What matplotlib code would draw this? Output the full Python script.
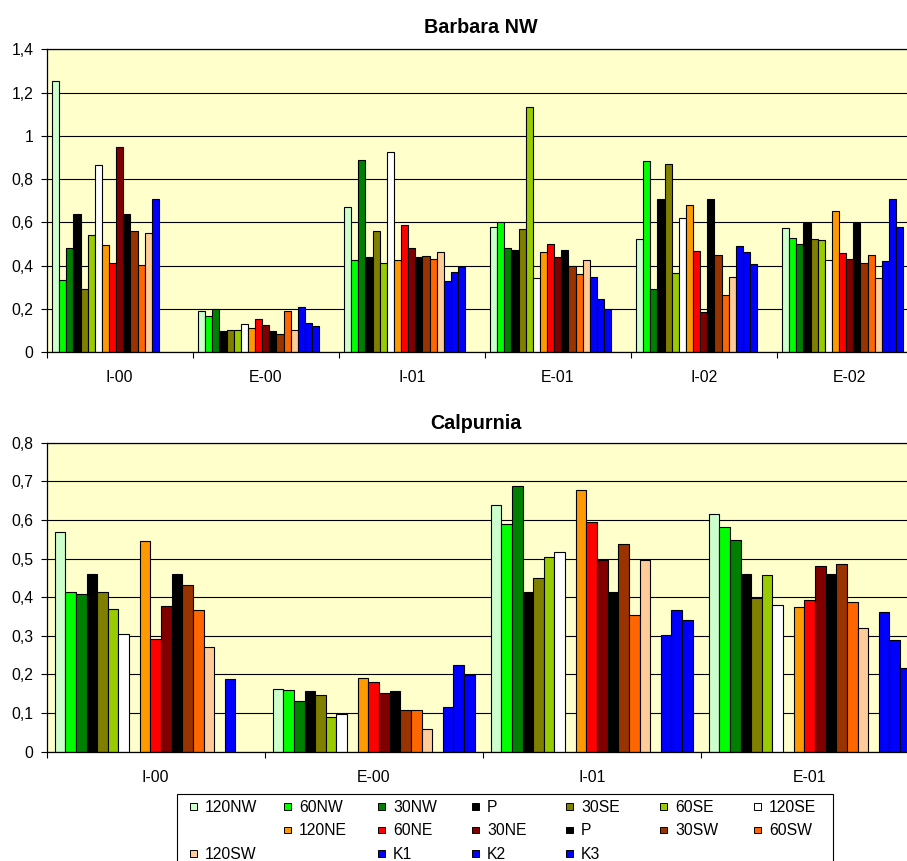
import numpy as np
import matplotlib
matplotlib.use("Agg")
import matplotlib.pyplot as plt
from matplotlib.patches import Rectangle
from matplotlib.ticker import FuncFormatter, FixedLocator

plt.rcParams['font.family'] = ['Liberation Sans', 'DejaVu Sans']

nan = np.nan

# series names / colours (legend order, '' = empty slot)
names = ['120NW', '60NW', '30NW', 'P', '30SE', '60SE', '120SE', '',
         '120NE', '60NE', '30NE', 'P', '30SW', '60SW', '120SW', '',
         'K1', 'K2', 'K3']
colors = ['#CCFFCC', '#00FF00', '#008000', '#000000', '#808000', '#99CC00', '#FFFFFF', None,
          '#FF9900', '#FF0000', '#800000', '#000000', '#993300', '#FF6600', '#FFCC99', None,
          '#0000FF', '#0000FF', '#0000FF']
series = [i for i, n in enumerate(names) if n]   # the 17 real series

# Barbara NW
barbara_cats = ['I-00', 'E-00', 'I-01', 'E-01', 'I-02', 'E-02']
barbara_I00 = [1.253, 0.335, 0.481, 0.640, 0.291, 0.541, 0.863, 0.493, 0.413, 0.948, 0.640, 0.560, 0.401, 0.549, 0.706, nan, nan]
barbara_E00 = [0.188, 0.165, 0.200, 0.099, 0.103, 0.103, 0.128, 0.109, 0.153, 0.123, 0.099, 0.085, 0.188, 0.103, 0.208, 0.134, 0.122]
barbara_I01 = [0.669, 0.426, 0.888, 0.439, 0.560, 0.413, 0.924, 0.426, 0.589, 0.481, 0.439, 0.444, 0.432, 0.463, 0.328, 0.372, 0.395]
barbara_E01 = [0.578, 0.603, 0.481, 0.470, 0.567, 1.132, 0.341, 0.463, 0.498, 0.438, 0.470, 0.396, 0.359, 0.426, 0.347, 0.244, 0.200]
barbara_I02 = [0.523, 0.882, 0.291, 0.706, 0.870, 0.364, 0.621, 0.681, 0.469, 0.183, 0.706, 0.449, 0.262, 0.347, 0.492, 0.463, 0.407]
barbara_E02 = [0.572, 0.529, 0.498, 0.598, 0.523, 0.516, 0.426, 0.651, 0.456, 0.432, 0.598, 0.413, 0.450, 0.341, 0.419, 0.706, 0.578]

# Calpurnia
calp_cats = ['I-00', 'E-00', 'I-01', 'E-01']
calp_I00 = [0.568, 0.414, 0.408, 0.460, 0.414, 0.370, 0.306, 0.545, 0.293, 0.377, 0.460, 0.432, 0.367, 0.272, 0.187, nan, nan]
calp_E00 = [0.163, 0.160, 0.132, 0.156, 0.146, 0.091, 0.098, 0.190, 0.180, 0.153, 0.156, 0.109, 0.109, 0.058, 0.116, 0.224, 0.198]
calp_I01 = [0.640, 0.589, 0.688, 0.413, 0.450, 0.504, 0.517, 0.678, 0.595, 0.497, 0.413, 0.538, 0.354, 0.497, 0.303, 0.367, 0.341]
calp_E01 = [0.615, 0.582, 0.548, 0.460, 0.398, 0.457, 0.381, 0.375, 0.392, 0.481, 0.460, 0.487, 0.388, 0.319, 0.362, 0.289, 0.217]

W, H = 907, 861
fig = plt.figure(figsize=(W / 100, H / 100), dpi=100)

nslots = 19
gap = 1.5
w = 1.0 / (nslots + gap)
FS = 11.3


def comma(v, pos):
    return f"{v:g}".replace('.', ',')


def draw(ax, cats, rows, slots, ymax, ystep, title, tx, tpad):
    data = np.array(rows)
    x = np.arange(len(cats))
    ax.set_facecolor('#FFFFCC')
    ax.set_axisbelow(True)
    for k, (s, si) in enumerate(zip(slots, series)):
        off = -0.5 + gap / 2 * w + (s + 0.5) * w
        ax.bar(x + off, data[:, k], width=w, color=colors[si],
               edgecolor='black', linewidth=0.8)
    ax.set_xlim(-0.5, len(cats) - 0.5)
    ax.set_ylim(0, ymax)
    ax.set_yticks(np.arange(0, ymax + 1e-9, ystep))
    ax.yaxis.set_major_formatter(FuncFormatter(comma))
    ax.yaxis.grid(True, color='black', linewidth=0.8)
    ax.xaxis.set_major_locator(FixedLocator(np.arange(len(cats) + 1) - 0.5))
    ax.xaxis.set_major_formatter(FuncFormatter(lambda v, p: ''))
    ax.set_xticks(x, cats, minor=True)
    ax.tick_params(axis='x', which='minor', length=0, pad=13, labelsize=FS)
    ax.tick_params(axis='x', which='major', length=4, width=0.8, direction='out')
    ax.tick_params(axis='y', length=4.3, width=0.8, direction='out', pad=5.2, labelsize=FS)
    for sp in ax.spines.values():
        sp.set_linewidth(0.9)
        sp.set_color('black')
    ax.spines['right'].set_visible(False)
    ax.set_title(title, fontsize=14.2, fontweight='bold', pad=tpad, x=tx)


ax1 = fig.add_axes([46.7 / W, 1 - 352 / H, 876 / W, (352 - 49.3) / H])
draw(ax1, barbara_cats,
     [barbara_I00, barbara_E00, barbara_I01, barbara_E01, barbara_I02, barbara_E02],
     list(range(17)), 1.4, 0.2, 'Barbara NW', 0.496, 12)

ax2 = fig.add_axes([46.7 / W, 1 - 751.7 / H, 872 / W, (751.7 - 442.7) / H])
draw(ax2, calp_cats, [calp_I00, calp_E00, calp_I01, calp_E01],
     series, 0.8, 0.1, 'Calpurnia', 0.492, 9.6)

# legend: 7 equal columns, filled row by row
def px(x, y):
    return x / W, 1 - y / H

lx0, ly0, lx1 = 177.3, 794.3, 833.3
fig.add_artist(Rectangle(px(lx0, 875), (lx1 - lx0) / W, (875 - ly0) / H,
                         transform=fig.transFigure, facecolor='white',
                         edgecolor='black', linewidth=0.8))
col_w, row_h = 94.0, 23.6
ms = 6.5
for i, (n, c) in enumerate(zip(names, colors)):
    if not n:
        continue
    r, col = divmod(i, 7)
    mx = 190 + col * col_w
    my = 806.5 + r * row_h
    fig.add_artist(Rectangle(px(mx, my + ms / 2), ms / W, ms / H,
                             transform=fig.transFigure, facecolor=c,
                             edgecolor='black', linewidth=0.7))
    fig.text(*px(mx + 15, my + 5), n, fontsize=FS, va='baseline', ha='left')

fig.savefig('out.png', dpi=100)
